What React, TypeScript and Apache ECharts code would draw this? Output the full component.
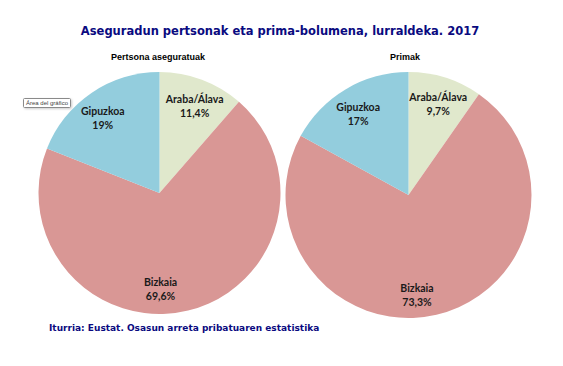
import React, { useEffect, useRef } from "react";
import * as echarts from "echarts";

const categories = ["Araba/Álava", "Bizkaia", "Gipuzkoa"];
const personsValues = [11.4, 69.6, 19];
const premiumValues = [9.7, 73.3, 17];
const percentLabels1 = ["11,4%", "69,6%", "19%"];
const percentLabels2 = ["9,7%", "73,3%", "17%"];
const colors = ["#E0E8CC", "#D99795", "#93CDDD"];

const titleText = "Aseguradun pertsonak eta prima-bolumena, lurraldeka. 2017";
const sub1 = "Pertsona aseguratuak";
const sub2 = "Primak";
const sourceText = "Iturria: Eustat. Osasun arreta pribatuaren estatistika";

// label nudges (style), per pie: [Araba, Bizkaia, Gipuzkoa]
const labelNudge: number[][][] = [
  [[1, 4], [-22, 1], [-2, 6]],
  [[0, 3], [-14, 4], [0, 4]],
];

export default function App() {
  const ref = useRef<HTMLDivElement>(null);
  useEffect(() => {
    if (!ref.current) return;
    const chart = echarts.init(ref.current, undefined, { renderer: "svg" });
    const mk = (vals: number[]) => vals.map((v, i) => ({ name: categories[i], value: v }));
    const pieBase = (center: string[], r: number, vals: number[], labels: string[], pieIdx: number) => [
      {
        type: "pie",
        center,
        radius: r,
        startAngle: 90,
        clockwise: true,
        label: { show: false },
        labelLine: { show: false },
        silent: true,
        itemStyle: { borderWidth: 0 },
        data: mk(vals).map((d, i) => ({ ...d, itemStyle: { color: colors[i] } })),
      },
      {
        type: "pie",
        center,
        radius: [r * 0.56, r],
        startAngle: 90,
        clockwise: true,
        silent: true,
        itemStyle: { color: "transparent", borderWidth: 0 },
        labelLine: { show: false },
        labelLayout: (p: any) => {
          const n = labelNudge[pieIdx][p.dataIndex];
          return { dx: n[0], dy: n[1] };
        },
        label: {
          show: true,
          position: "inside",
          formatter: (p: any) => `${p.name}\n${labels[p.dataIndex]}`,
          fontFamily: "Lato",
          fontWeight: "bold",
          fontSize: 10.5,
          lineHeight: 14,
          color: "#1a1a1a",
        },
        data: mk(vals),
      },
    ];
    const tStyle = (size: number, color: string, family: string) => ({
      fontFamily: family,
      fontWeight: "bold",
      fontSize: size,
      color,
    });
    chart.setOption({
      animation: false,
      backgroundColor: "#ffffff",
      title: [
        {
          text: titleText,
          left: 280,
          top: 25,
          padding: 0,
          textAlign: "center",
          textStyle: tStyle(11.5, "#0A0A80", "DejaVu Sans"),
        },
        {
          text: sub1,
          left: 158,
          top: 52,
          padding: 0,
          textAlign: "center",
          textStyle: tStyle(9, "#000", "Liberation Sans"),
        },
        {
          text: sub2,
          left: 405,
          top: 52,
          padding: 0,
          textAlign: "center",
          textStyle: tStyle(9, "#000", "Liberation Sans"),
        },
        {
          text: sourceText,
          left: 49,
          top: 323,
          padding: 0,
          textStyle: tStyle(9, "#0A0A80", "DejaVu Sans"),
        },
      ],
      graphic: [
        {
          type: "rect",
          shape: { x: 23.5, y: 98.5, width: 47, height: 9, r: 1 },
          style: { fill: "#ffffff", stroke: "#8a8a8a", lineWidth: 1, shadowColor: "rgba(0,0,0,0.2)", shadowBlur: 2, shadowOffsetX: 1, shadowOffsetY: 1 },
        },
        {
          type: "text",
          x: 47,
          y: 103,
          style: { text: "Área del gráfico", fontSize: 6, fontFamily: "Liberation Sans", fill: "#444", align: "center", verticalAlign: "middle" },
        },
      ],
      series: [
        ...pieBase(["159.5", "193"], 121, personsValues, percentLabels1, 0),
        ...pieBase(["408.5", "195"], 123, premiumValues, percentLabels2, 1),
      ],
    });
    return () => chart.dispose();
  }, []);
  return (
    <div
      ref={ref}
      style={{ position: "absolute", left: 0, top: 0, width: 563, height: 366 }}
    />
  );
}
